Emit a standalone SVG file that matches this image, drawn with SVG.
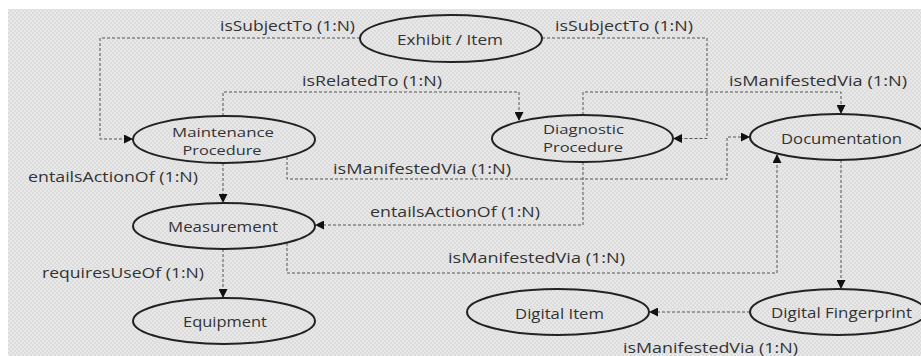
<svg xmlns="http://www.w3.org/2000/svg" width="921" height="356" viewBox="0 0 921 356">
<defs>
<pattern id="bg" width="4" height="4" patternUnits="userSpaceOnUse">
<rect width="4" height="4" fill="#e8e8e8"/>
<rect width="2" height="2" fill="#dcdcdc"/>
<rect x="2" y="2" width="2" height="2" fill="#dcdcdc"/>
</pattern>
<marker id="arr" viewBox="0 0 10 10" refX="10" refY="5" markerWidth="9" markerHeight="9" markerUnits="userSpaceOnUse" orient="auto">
<path d="M0,0 L10,5 L0,10 z" fill="#111"/>
</marker>
</defs>
<style>
.node ellipse{fill:none;stroke:#222;stroke-width:2}
text{font-family:"Open Sans","DejaVu Sans",sans-serif;font-size:14px;fill:#333;dominant-baseline:central}
.node text{text-anchor:middle}
.node text.two{font-size:12.5px}
#connectors path{fill:none;stroke:#555;stroke-width:1;stroke-dasharray:3 2;marker-end:url(#arr)}
</style>
<rect width="921" height="356" fill="#fff"/>
<rect x="8" y="9" width="913" height="347" fill="url(#bg)"/>
<g id="connectors">
<path d="M360,38 H100 V139 H133"/>
<path d="M542,38 H707 V138.5 H673"/>
<path d="M223,116 V92 H519 V121"/>
<path d="M583,115 V92 H841 V114"/>
<path d="M223,163 V203"/>
<path d="M287,157 V179 H727 V137 H750"/>
<path d="M583,162 V225 H315"/>
<path d="M287,243 V273 H777 V154"/>
<path d="M223,249 V298"/>
<path d="M841,160 V289"/>
<path d="M750,312 H649"/>
</g>
<g id="labels">
<text x="220" y="25" textLength="135" lengthAdjust="spacingAndGlyphs">isSubjectTo (1:N)</text>
<text x="555" y="25" textLength="138" lengthAdjust="spacingAndGlyphs">isSubjectTo (1:N)</text>
<text x="302" y="80" textLength="140" lengthAdjust="spacingAndGlyphs">isRelatedTo (1:N)</text>
<text x="729" y="80" textLength="178" lengthAdjust="spacingAndGlyphs">isManifestedVia (1:N)</text>
<text x="333" y="168" textLength="178" lengthAdjust="spacingAndGlyphs">isManifestedVia (1:N)</text>
<text x="28" y="176" textLength="170" lengthAdjust="spacingAndGlyphs">entailsActionOf (1:N)</text>
<text x="370" y="211" textLength="170" lengthAdjust="spacingAndGlyphs">entailsActionOf (1:N)</text>
<text x="448" y="257" textLength="177" lengthAdjust="spacingAndGlyphs">isManifestedVia (1:N)</text>
<text x="42" y="272" textLength="162" lengthAdjust="spacingAndGlyphs">requiresUseOf (1:N)</text>
<text x="623" y="347" textLength="175" lengthAdjust="spacingAndGlyphs">isManifestedVia (1:N)</text>
</g>
<g id="exhibit" class="node"><ellipse cx="451" cy="38.5" rx="91" ry="23.5"/><text x="450" y="39" textLength="106" lengthAdjust="spacingAndGlyphs">Exhibit / Item</text></g>
<g id="maintenance" class="node"><ellipse cx="224" cy="139.5" rx="91" ry="23.5"/><text class="two" x="223" y="132" textLength="102" lengthAdjust="spacingAndGlyphs">Maintenance</text><text class="two" x="222" y="150" textLength="79" lengthAdjust="spacingAndGlyphs">Procedure</text></g>
<g id="diagnostic" class="node"><ellipse cx="582.5" cy="138.5" rx="90.5" ry="23.5"/><text class="two" x="583.5" y="129.5" textLength="81" lengthAdjust="spacingAndGlyphs">Diagnostic</text><text class="two" x="583" y="147.5" textLength="80" lengthAdjust="spacingAndGlyphs">Procedure</text></g>
<g id="documentation" class="node"><ellipse cx="838" cy="137" rx="88" ry="23"/><text x="841.5" y="138" textLength="121" lengthAdjust="spacingAndGlyphs">Documentation</text></g>
<g id="measurement" class="node"><ellipse cx="224" cy="226" rx="91" ry="23"/><text x="223" y="226" textLength="110" lengthAdjust="spacingAndGlyphs">Measurement</text></g>
<g id="equipment" class="node"><ellipse cx="224" cy="321" rx="91" ry="23"/><text x="225" y="321" textLength="84" lengthAdjust="spacingAndGlyphs">Equipment</text></g>
<g id="digitalitem" class="node"><ellipse cx="558" cy="312" rx="91" ry="23"/><text x="559.5" y="313" textLength="89" lengthAdjust="spacingAndGlyphs">Digital Item</text></g>
<g id="fingerprint" class="node"><ellipse cx="838" cy="312" rx="88" ry="23"/><text x="841.5" y="312" textLength="141" lengthAdjust="spacingAndGlyphs">Digital Fingerprint</text></g>
</svg>
